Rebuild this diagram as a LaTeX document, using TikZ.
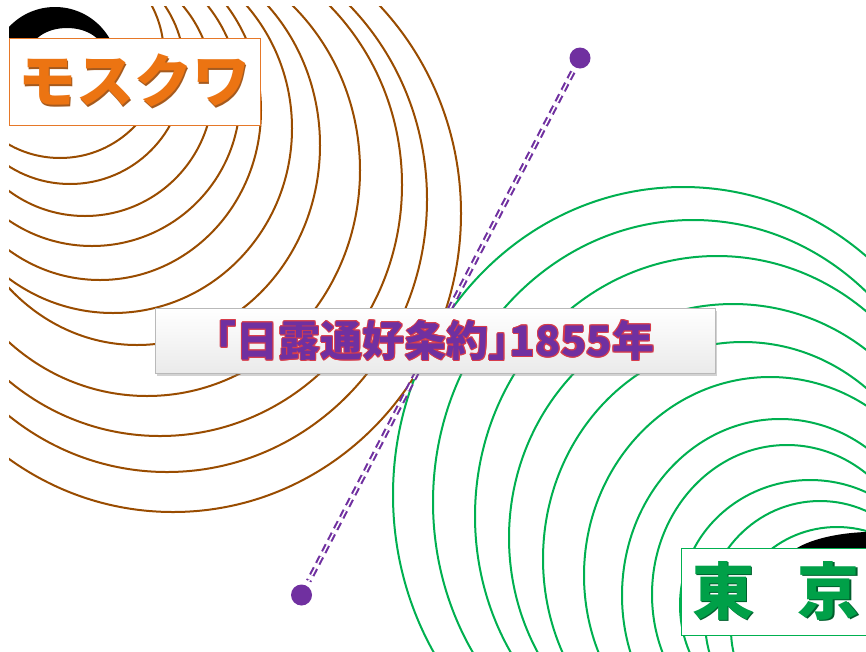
\documentclass[tikz,border=0pt]{standalone}
\usepackage{fontspec}
\newfontfamily\cjk{Noto Sans CJK JP}
\usetikzlibrary{shadows}
\definecolor{brn}{RGB}{153,76,0}
\definecolor{grn}{RGB}{0,176,80}
\definecolor{pur}{RGB}{112,48,160}
\definecolor{orgt}{RGB}{236,116,18}
\definecolor{orgs}{RGB}{165,90,30}
\definecolor{orgb}{RGB}{230,120,40}
\definecolor{tgrn}{RGB}{0,160,72}
\definecolor{tgrs}{RGB}{0,95,45}
\definecolor{glowred}{RGB}{215,60,75}
\newcommand{\shtxt}[3]{\rlap{\hspace{1.2pt}\raisebox{-1.4pt}{\textcolor{#1}{#3}}}\textcolor{#2}{#3}}
\newcommand{\glowtxt}[1]{%
\rlap{\hspace{-1.1pt}\textcolor{glowred}{#1}}%
\rlap{\hspace{1.1pt}\textcolor{glowred}{#1}}%
\rlap{\raisebox{1.1pt}{\textcolor{glowred}{#1}}}%
\rlap{\raisebox{-1.1pt}{\textcolor{glowred}{#1}}}%
\rlap{\hspace{0.8pt}\raisebox{0.8pt}{\textcolor{glowred}{#1}}}%
\rlap{\hspace{-0.8pt}\raisebox{-0.8pt}{\textcolor{glowred}{#1}}}%
\rlap{\hspace{0.8pt}\raisebox{-0.8pt}{\textcolor{glowred}{#1}}}%
\rlap{\hspace{-0.8pt}\raisebox{0.8pt}{\textcolor{glowred}{#1}}}%
\textcolor{pur}{#1}}
\tikzset{
  brownarc/.style={draw=brn, line width=2pt},
  greenarc/.style={draw=grn, line width=2pt},
  citybox/.style={rectangle, fill=white, line width=0.9pt, inner sep=0pt, font=\cjk\bfseries},
  treatybox/.style={rectangle, draw={rgb,255:red,185;green,185;blue,185}, line width=1pt,
     top color=white, bottom color={rgb,255:red,234;green,234;blue,234},
     drop shadow={shadow xshift=1.5pt, shadow yshift=-2.5pt, opacity=0.35},
     minimum width=560pt, minimum height=65pt, inner sep=0pt, font=\cjk\bfseries},
  enddot/.style={circle, fill=pur, minimum size=21pt, inner sep=0pt},
  treatyline/.style={draw=pur, line width=2.1pt, double=white, double distance=1.5pt,
     dash pattern=on 8pt off 5pt, line cap=butt, shorten <=5pt, shorten >=5pt}
}
\begin{document}
\begin{tikzpicture}[x=1pt,y=-1pt,line cap=round]
\useasboundingbox (0,0) rectangle (866,651);
\fill[white] (0,0) rectangle (866,651);
\begin{scope}
\clip (9,6) rectangle (866,651);
% black ring parts
\begin{scope}
\clip (9,6) rectangle (260,125);
\fill[black,even odd rule] (55,70) circle[radius=63] (67,53) ellipse[x radius=37,y radius=25];
\end{scope}
\fill[black] (797,548) .. controls (812,539) and (838,533) .. (866,532) -- (866,548) -- cycle;
% brown arcs
\foreach \cx/\cy/\a/\b in {60/54.2/103.8/103.8, 70/69.6/114.4/114.4, 85/88.1/127.9/127.9,
  92/98/148/148, 100/110.3/161/169.7, 113/128.4/179/184.6, 137/145.3/183/199.7,
  147/170.3/213/225.7, 160/184.8/242/251.2, 167/199.5/260/272.5, 173/213.5/288/298.5}
  \draw[brownarc] (\cx,\cy) ellipse[x radius=\a, y radius=\b];
% green arcs
\foreach \cx/\cy/\a/\b in {683/494.9/290/307.9, 693/502.2/260/282.2, 717/516.2/242/260.2,
  733/537.8/224/233.8, 743/558.9/200/216.9, 770/575.4/186/198.4, 780/595.4/158/176.4,
  787/594.5/135/149.5, 810/605/130/125, 820/620/115/119, 837/630/106/103}
  \draw[greenarc] (\cx,\cy) ellipse[x radius=\a, y radius=\b];
% city boxes
\node[citybox, draw=orgb, minimum width=251pt, minimum height=87pt] (moscow) at (134.5,81.5)
  {\fontsize{58}{60}\selectfont\shtxt{orgs}{orgt}{モスクワ}};
\node[citybox, draw=grn, minimum width=190pt, minimum height=87pt] (tokyo) at (776,591.5)
  {\fontsize{62}{64}\selectfont\shtxt{tgrs}{tgrn}{東\hspace{44pt}京}};
\end{scope}
% treaty line
\node[enddot] (p1) at (580,58) {};
\node[enddot] (p2) at (301.5,595) {};
\draw[treatyline] (p1) -- (p2);
% treaty box
\node[treatybox] (treaty) at (435,340.5)
  {\fontsize{42}{44}\selectfont\hspace*{-0.5em}\glowtxt{「日露通好条約」\hspace{-0.5em}1855年}};
\end{tikzpicture}
\end{document}
